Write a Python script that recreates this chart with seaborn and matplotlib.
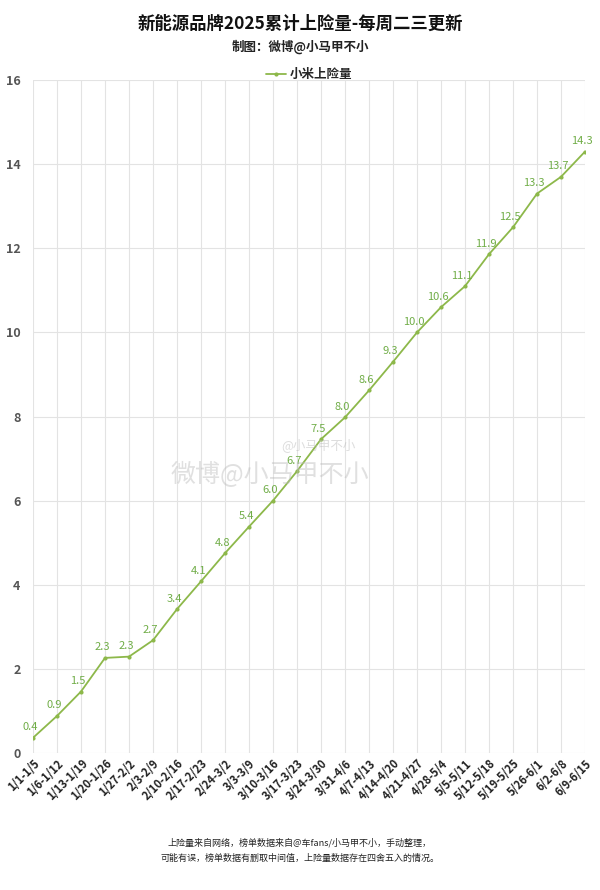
import numpy as np
import pandas as pd
import matplotlib.pyplot as plt
import seaborn as sns

weeks = [
    "1/1-1/5", "1/6-1/12", "1/13-1/19", "1/20-1/26", "1/27-2/2", "2/3-2/9",
    "2/10-2/16", "2/17-2/23", "2/24-3/2", "3/3-3/9", "3/10-3/16", "3/17-3/23",
    "3/24-3/30", "3/31-4/6", "4/7-4/13", "4/14-4/20", "4/21-4/27", "4/28-5/4",
    "5/5-5/11", "5/12-5/18", "5/19-5/25", "5/26-6/1", "6/2-6/8", "6/9-6/15",
]
xiaomi = [0.36, 0.88, 1.46, 2.26, 2.29, 2.68, 3.42, 4.08, 4.75, 5.38, 6.0, 6.7,
          7.46, 7.98, 8.62, 9.3, 10.0, 10.6, 11.1, 11.86, 12.5, 13.3, 13.7, 14.3]
series_name = "小米上险量"

sns.set_theme(style="white")
plt.rcParams["font.family"] = ["Noto Sans CJK SC", "DejaVu Sans"]
plt.rcParams["axes.unicode_minus"] = False

df = pd.DataFrame({"idx": np.arange(len(weeks)), "value": xiaomi})

fig = plt.figure(figsize=(6, 8.9), dpi=100)
ax = fig.add_axes([0.055, 0.154, 0.92, 0.756])

line_c = "#8DB84A"
text_c = "#70AD47"

sns.lineplot(data=df, x="idx", y="value", ax=ax, color=line_c, linewidth=1.3,
             marker="o", markersize=3, markeredgewidth=0, label=series_name)

for i, v in enumerate(xiaomi):
    ax.annotate(f"{v:.1f}", (i, v), xytext=(-2, 4), textcoords="offset points",
                ha="center", va="bottom", fontsize=8, color=text_c)

ax.set_xlim(0, len(weeks) - 1)
ax.set_ylim(0, 16)
ax.set_yticks(range(0, 17, 2))
ax.set_xticks(range(len(weeks)))
ax.set_xticklabels(weeks, rotation=45, ha="right", rotation_mode="anchor",
                   fontsize=8, fontweight="bold", color="#222222")
ax.tick_params(axis="y", labelsize=9, labelcolor="#555555", pad=9, length=0)
ax.tick_params(axis="x", pad=3, length=0)
for t in ax.get_yticklabels():
    t.set_fontweight("bold")
ax.set_xlabel("")
ax.set_ylabel("")
ax.grid(True, color="#E3E3E3", linewidth=0.8)
for s in ax.spines.values():
    s.set_visible(False)

leg = ax.legend(loc="center", bbox_to_anchor=(0.5, 1.008), frameon=False,
                fontsize=9, handlelength=1.6, handletextpad=0.3, borderaxespad=0)
for t in leg.get_texts():
    t.set_fontweight("bold")

fig.text(0.5, 0.973, "新能源品牌2025累计上险量-每周二三更新", ha="center", va="center",
         fontsize=12.5, fontweight="bold", color="#111111")
fig.text(0.5, 0.947, "制图：微博@小马甲不小", ha="center", va="center",
         fontsize=9, fontweight="bold", color="#222222")

# watermark
fig.text(0.45, 0.466, "微博@小马甲不小", ha="center", va="center",
         fontsize=18, color="#BBBBBB", alpha=0.45)
fig.text(0.53, 0.5, "@小马甲不小", ha="center", va="center",
         fontsize=9, color="#BBBBBB", alpha=0.5)

fig.text(0.5, 0.053, "上险量来自网络，榜单数据来自@车fans/小马甲不小，手动整理，",
         ha="center", va="center", fontsize=6.5, color="#222222")
fig.text(0.5, 0.036, "可能有误，榜单数据有删取中间值，上险量数据存在四舍五入的情况。",
         ha="center", va="center", fontsize=6.5, color="#222222")

fig.savefig("out.png", dpi=100)
